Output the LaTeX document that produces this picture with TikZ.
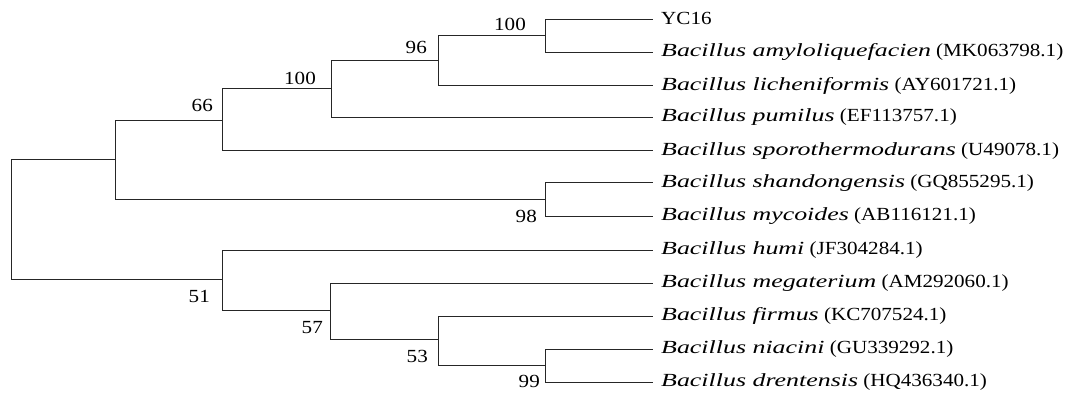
\documentclass[tikz,border=0pt]{standalone}
\usepackage{fontspec}
\setmainfont[FakeStretch=1.14, ItalicFeatures={FakeStretch=1.4}]{Liberation Serif}
\begin{document}
\begin{tikzpicture}[x=1pt,y=-1pt,
  br/.style={line width=1pt, black!85},
  leaf/.style={anchor=base west, inner sep=0pt, font=\fontsize{18.5}{20}\selectfont},
  boot/.style={anchor=base east, inner sep=0pt, font=\fontsize{18.5}{20}\selectfont}]
\useasboundingbox (0,0) rectangle (1067,398);
% internal nodes
\coordinate (root) at (11,239.5);
\coordinate (n66) at (115,160);
\coordinate (n100a) at (222.7,120.5);
\coordinate (n100b) at (331,89);
\coordinate (n96) at (438,61);
\coordinate (n100c) at (545,36);
\coordinate (n98) at (545,199.5);
\coordinate (n51) at (222.7,279.5);
\coordinate (n57) at (330,310.5);
\coordinate (n53) at (438,339.5);
\coordinate (n99) at (545,365.5);
% leaf ends
\foreach \n/\y in {l1/20,l2/52.5,l3/86,l4/117.5,l5/151,l6/183,l7/216,l8/250,l9/283,l10/316,l11/349,l12/382}
  \coordinate (\n) at (653,\y);
% leaf labels
\node[leaf] (t1) at (661,24.5) {YC16};
\node[leaf] (t2) at (661,57) {\textit{Bacillus amyloliquefacien} (MK063798.1)};
\node[leaf] (t3) at (661,90.5) {\textit{Bacillus licheniformis} (AY601721.1)};
\node[leaf] (t4) at (661,122) {\textit{Bacillus pumilus} (EF113757.1)};
\node[leaf] (t5) at (661,155.5) {\textit{Bacillus sporothermodurans} (U49078.1)};
\node[leaf] (t6) at (661,187.5) {\textit{Bacillus shandongensis} (GQ855295.1)};
\node[leaf] (t7) at (661,220.5) {\textit{Bacillus mycoides} (AB116121.1)};
\node[leaf] (t8) at (661,254.5) {\textit{Bacillus humi} (JF304284.1)};
\node[leaf] (t9) at (661,287.5) {\textit{Bacillus megaterium} (AM292060.1)};
\node[leaf] (t10) at (661,320.5) {\textit{Bacillus firmus} (KC707524.1)};
\node[leaf] (t11) at (661,353.5) {\textit{Bacillus niacini} (GU339292.1)};
\node[leaf] (t12) at (661,386.5) {\textit{Bacillus drentensis} (HQ436340.1)};
% branches
\draw[br] (root) |- (n66);
\draw[br] (root) |- (n51);
\draw[br] (n66) |- (n100a);
\draw[br] (n66) |- (n98);
\draw[br] (n100a) |- (n100b);
\draw[br] (n100a) |- (l5);
\draw[br] (n100b) |- (n96);
\draw[br] (n100b) |- (l4);
\draw[br] (n96) |- (n100c);
\draw[br] (n96) |- (l3);
\draw[br] (n100c) |- (l1);
\draw[br] (n100c) |- (l2);
\draw[br] (n98) |- (l6);
\draw[br] (n98) |- (l7);
\draw[br] (n51) |- (l8);
\draw[br] (n51) |- (n57);
\draw[br] (n57) |- (l9);
\draw[br] (n57) |- (n53);
\draw[br] (n53) |- (l10);
\draw[br] (n53) |- (n99);
\draw[br] (n99) |- (l11);
\draw[br] (n99) |- (l12);
% bootstrap values
\node[boot] (b66) at (213,112) {66};
\node[boot] (b100a) at (316,85) {100};
\node[boot] (b96) at (427,54) {96};
\node[boot] (b100b) at (526,30.5) {100};
\node[boot] (b98) at (537,222) {98};
\node[boot] (b51) at (210,302) {51};
\node[boot] (b57) at (323,333) {57};
\node[boot] (b53) at (428,362) {53};
\node[boot] (b99) at (540,387) {99};
\end{tikzpicture}
\end{document}
